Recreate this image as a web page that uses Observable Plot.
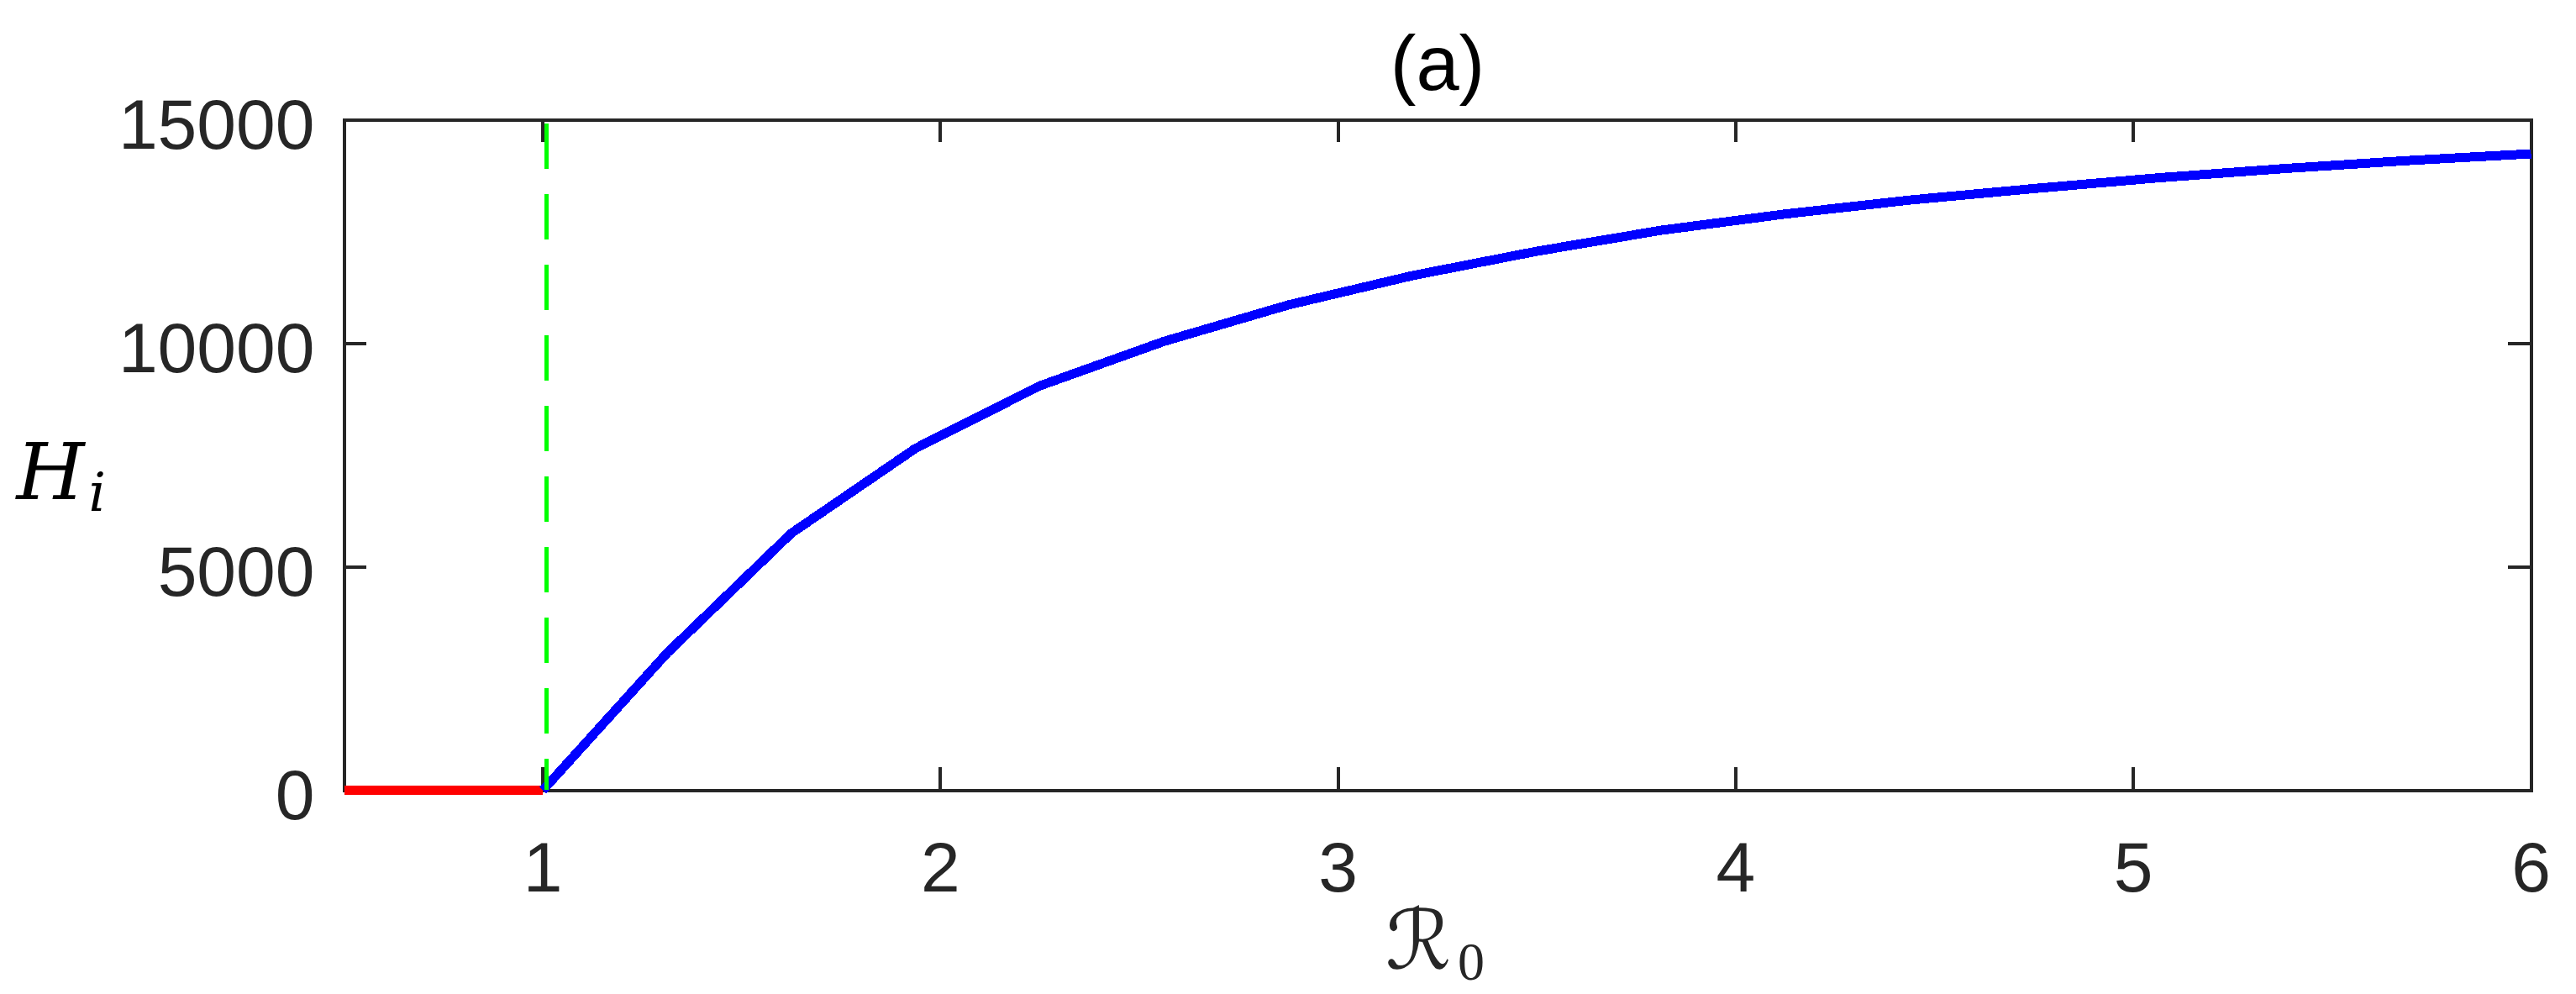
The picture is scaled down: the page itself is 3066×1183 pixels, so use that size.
<!DOCTYPE html>
<html>
<head>
<meta charset="utf-8">
<script src="https://cdn.jsdelivr.net/npm/d3@7"></script>
<script src="https://cdn.jsdelivr.net/npm/@observablehq/plot@0.6"></script>
<style>
  html, body { margin: 0; padding: 0; background: #ffffff; }
  #chart svg { display: block; }
</style>
</head>
<body>
<div id="chart"></div>
<script>
// ---- data ----
const redX = [0.5, 0.75, 1.0];
const redY = [0, 0, 0];

const blueX = [1, 1.3125, 1.625, 1.9375, 2.25, 2.5625, 2.875, 3.1875, 3.5, 3.8125, 4.125, 4.4375, 4.75, 5.0625, 5.375, 5.6875, 6];
const blueY = [0, 3070, 5750, 7650, 9048, 10043, 10857, 11514, 12058, 12527, 12891, 13203, 13460, 13700, 13905, 14085, 14238];

const thresholdX = [1.01];

const xTicks = [1, 2, 3, 4, 5, 6];
const xTickLabels = ["1", "2", "3", "4", "5", "6"];
const yTicks = [0, 5000, 10000, 15000];
const yTickLabels = ["0", "5000", "10000", "15000"];

const titleText = "(a)";
const xLabelMain = "\u211B";
const xLabelSub = "0";
const yLabelMain = "H";
const yLabelSub = "i";

// ---- layout ----
const W = 3066, H = 1183;
const mL = 409, mR = 54, mT = 142, mB = 243;
const innerW = W - mL - mR;
const innerH = H - mT - mB;
const tickLen = 27;
const axisColor = "#262626";

const redRows = redX.map((x, i) => ({x, y: redY[i]}));
const blueRows = blueX.map((x, i) => ({x, y: blueY[i]}));

const crisp = {shapeRendering: "crispEdges"};

const chart = Plot.plot({
  width: W,
  height: H,
  marginLeft: mL,
  marginRight: mR,
  marginTop: mT,
  marginBottom: mB,
  style: {background: "#ffffff", fontFamily: "'Liberation Sans', Arial, sans-serif", color: axisColor},
  x: {domain: [0.5, 6], axis: null},
  y: {domain: [0, 15000], axis: null},
  marks: [
    // inward ticks on all four sides
    Plot.ruleY(yTicks, {y: d => d, insetRight: innerW - tickLen, stroke: axisColor, strokeWidth: 4, ...crisp}),
    Plot.ruleY(yTicks, {y: d => d, insetLeft: innerW - tickLen, stroke: axisColor, strokeWidth: 4, ...crisp}),
    Plot.ruleX(xTicks, {x: d => d, insetTop: innerH - tickLen, stroke: axisColor, strokeWidth: 4, ...crisp}),
    Plot.ruleX(xTicks, {x: d => d, insetBottom: innerH - tickLen, stroke: axisColor, strokeWidth: 4, ...crisp}),
    Plot.frame({stroke: axisColor, strokeWidth: 4, ...crisp}),
    // data lines
    Plot.line(redRows, {x: "x", y: "y", stroke: "#ff0000", strokeWidth: 11, strokeLinecap: "butt", strokeLinejoin: "round", ...crisp}),
    Plot.line(blueRows, {x: "x", y: "y", stroke: "#0000ff", strokeWidth: 11, strokeLinecap: "butt", strokeLinejoin: "round", ...crisp}),
    Plot.ruleX(thresholdX, {x: d => d, stroke: "#00ff00", strokeWidth: 5, strokeDasharray: "54,30", strokeDashoffset: 79, ...crisp}),
    // tick labels
    Plot.text(yTicks, {y: d => d, text: (d, i) => yTickLabels[i], frameAnchor: "left", textAnchor: "end", lineAnchor: "bottom", dx: -35, dy: 34, fontSize: 84, fill: axisColor}),
    Plot.text(xTicks, {x: d => d, text: (d, i) => xTickLabels[i], frameAnchor: "bottom", textAnchor: "middle", lineAnchor: "bottom", dy: 120, fontSize: 84, fill: axisColor}),
    // title
    Plot.text([titleText], {text: d => d, frameAnchor: "top", textAnchor: "middle", lineAnchor: "bottom", dy: -36, fontSize: 92, fill: "#000000"}),
    // x label  R_0
    Plot.text([xLabelMain], {text: d => d, frameAnchor: "bottom", textAnchor: "start", lineAnchor: "bottom", dx: -62, dy: 212, fontSize: 98, fontFamily: "'DejaVu Serif', 'DejaVu Sans', serif", fontStyle: "italic", fill: axisColor}),
    Plot.text([xLabelSub], {text: d => d, frameAnchor: "bottom", textAnchor: "start", lineAnchor: "bottom", dx: 24, dy: 225, fontSize: 64, fontFamily: "'Liberation Serif', serif", fill: axisColor}),
    // y label  H_i
    Plot.text([yLabelMain], {text: d => d, frameAnchor: "left", textAnchor: "start", lineAnchor: "bottom", dx: -390, dy: 52, fontSize: 93, fontFamily: "'DejaVu Serif', serif", fontStyle: "italic", fill: "#000000"}),
    Plot.text([yLabelSub], {text: d => d, frameAnchor: "left", textAnchor: "start", lineAnchor: "bottom", dx: -304, dy: 66, fontSize: 64, fontFamily: "'DejaVu Serif', serif", fontStyle: "italic", fill: "#000000"})
  ]
});

document.getElementById("chart").appendChild(chart);
</script>
</body>
</html>
